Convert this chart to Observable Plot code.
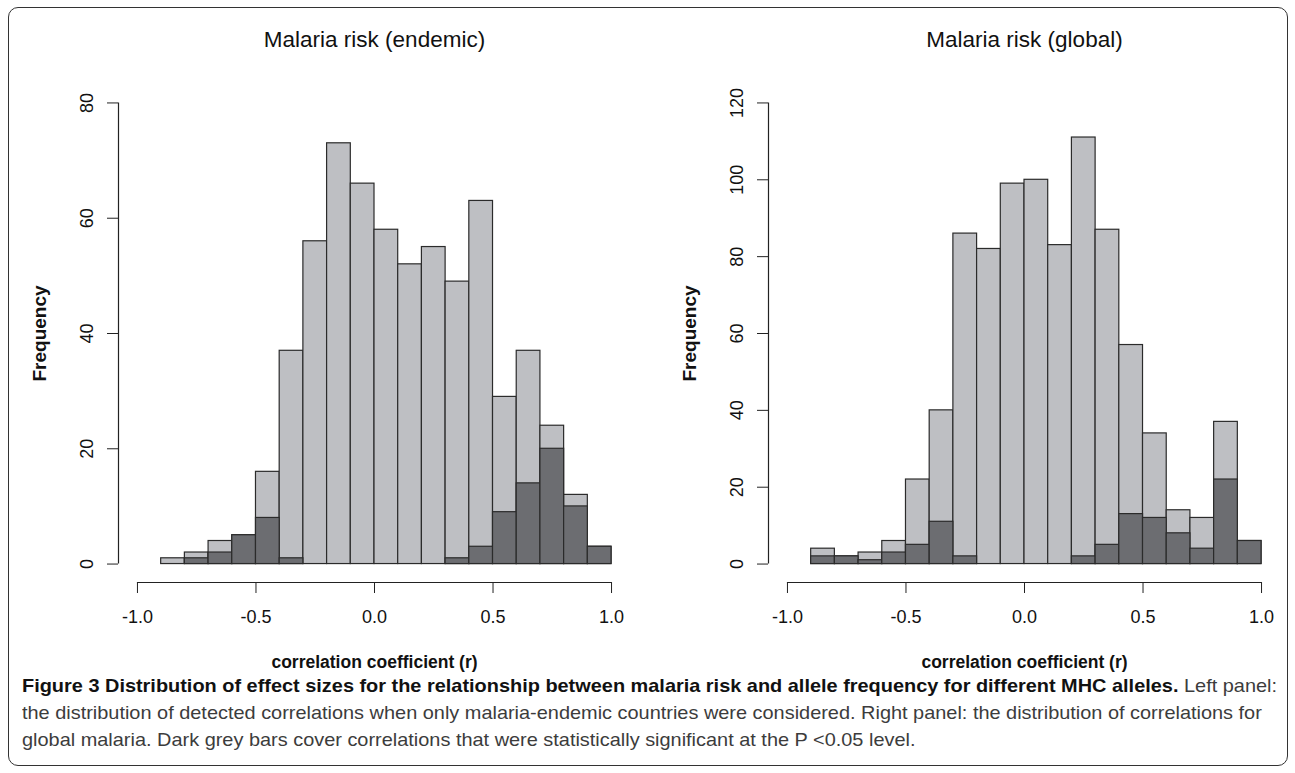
<!DOCTYPE html>
<html><head><meta charset="utf-8">
<script src="https://cdn.jsdelivr.net/npm/d3@7"></script>
<script src="https://cdn.jsdelivr.net/npm/@observablehq/plot@0.6"></script>
<style>
html,body{margin:0;padding:0;background:#fff}
body{width:1295px;height:773px;overflow:hidden;position:relative;font-family:"Liberation Sans",Arial,sans-serif}
#frame{position:absolute;left:8px;top:7px;width:1280px;height:759px;border:1.5px solid #333;border-radius:10px;box-sizing:border-box}
.panel{position:absolute;top:0;width:648px;height:680px}
.panel svg{overflow:visible;max-width:none !important}
g[aria-label="x-axis label"] text{font-weight:bold;font-size:17.5px;fill:#111}
g[aria-label="y-axis label"] text{font-weight:bold;font-size:19px;fill:#111}
#caption{position:absolute;left:22px;top:672px;transform-origin:0 0;white-space:nowrap;font-family:"Liberation Sans Narrow","Liberation Sans",Arial,sans-serif;font-size:18.5px;line-height:27px;color:#3c3c3c}
#caption b{color:#111}
</style></head>
<body>
<div id="frame"></div>
<div id="left" class="panel" style="left:0px"></div>
<div id="right" class="panel" style="left:650px"></div>
<div id="caption">
<div id="cl1"><b>Figure 3 Distribution of effect sizes for the relationship between malaria risk and allele frequency for different MHC alleles.</b> Left panel:</div>
<div>the distribution of detected correlations when only malaria-endemic countries were considered. Right panel: the distribution of correlations for</div>
<div>global malaria. Dark grey bars cover correlations that were statistically significant at the P &lt;0.05 level.</div>
</div>
<script>
// histogram breaks (bin edges)
const breaks = [-0.9,-0.8,-0.7,-0.6,-0.5,-0.4,-0.3,-0.2,-0.1,0.0,0.1,0.2,0.3,0.4,0.5,0.6,0.7,0.8,0.9,1.0];
// left panel: malaria risk (endemic)
const endemicAll = [1,2,4,5,16,37,56,73,66,58,52,55,49,63,29,37,24,12,3];
const endemicSig = [0,1,2,5,8,1,0,0,0,0,0,0,1,3,9,14,20,10,3];
// right panel: malaria risk (global)
const globalAll = [4,2,3,6,22,40,86,82,99,100,83,111,87,57,34,14,12,37,6];
const globalSig = [2,2,1,3,5,11,2,0,0,0,0,2,5,13,12,8,4,22,6];
// tick labels
const xTicks = [-1.0,-0.5,0.0,0.5,1.0];
const yTicksEndemic = [0,20,40,60,80];
const yTicksGlobal = [0,20,40,60,80,100,120];
const titles = ["Malaria risk (endemic)", "Malaria risk (global)"];
const xLabel = "correlation coefficient (r)";
const yLabel = "Frequency";

function panel(title, all, sig, yTicks) {
  const rows = all.map((n, i) => ({x1: breaks[i], x2: breaks[i + 1], all: n, sig: sig[i]}));
  const xPad = 0.04 * (xTicks[xTicks.length - 1] - xTicks[0]);
  const yPad = 0.04 * (yTicks[yTicks.length - 1] - yTicks[0]);
  const x0 = xTicks[0] - xPad, y0 = yTicks[0] - yPad;
  return Plot.plot({
    width: 648, height: 680,
    marginLeft: 118, marginRight: 18, marginTop: 84, marginBottom: 98,
    style: {fontFamily: "Liberation Sans, Arial, sans-serif", fontSize: "18px", color: "#111", background: "transparent"},
    x: {domain: [x0, xTicks[xTicks.length - 1] + xPad]},
    y: {domain: [y0, yTicks[yTicks.length - 1] + yPad]},
    marks: [
      Plot.rect(rows, {x1: "x1", x2: "x2", y1: 0, y2: "all", fill: "#bebfc3", stroke: "#2b2b2b", strokeWidth: 1.2}),
      Plot.rect(rows.filter(d => d.sig > 0), {x1: "x1", x2: "x2", y1: 0, y2: "sig", fill: "#6c6d71", stroke: "#2b2b2b", strokeWidth: 1.2}),
      Plot.ruleX([x0], {y1: yTicks[0], y2: yTicks[yTicks.length - 1], stroke: "#222", strokeWidth: 1.2}),
      Plot.ruleY([y0], {x1: xTicks[0], x2: xTicks[xTicks.length - 1], stroke: "#222", strokeWidth: 1.2}),
      Plot.axisX({ticks: xTicks, tickSize: 11, tickPadding: 17, tickFormat: d => d.toFixed(1), stroke: "#222",
        label: xLabel, labelAnchor: "center", labelArrow: "none", labelOffset: 85}),
      Plot.axisY({ticks: yTicks, tickSize: 11, tickPadding: 15, tickRotate: -90, tickFormat: d => String(d), stroke: "#222",
        label: yLabel, labelAnchor: "center", labelArrow: "none", labelOffset: 86}),
      Plot.text([title], {frameAnchor: "top", dy: -53, fontSize: 22.5, fill: "#111"})
    ]
  });
}

document.getElementById("left").append(panel(titles[0], endemicAll, endemicSig, yTicksEndemic));
document.getElementById("right").append(panel(titles[1], globalAll, globalSig, yTicksGlobal));

// fit caption to the frame width
const cap = document.getElementById("caption");
const l1 = document.getElementById("cl1");
const range = document.createRange(); range.selectNodeContents(l1);
const tw = range.getBoundingClientRect().width;
cap.style.transform = `scaleX(${1255 / tw})`;
</script>
</body></html>
